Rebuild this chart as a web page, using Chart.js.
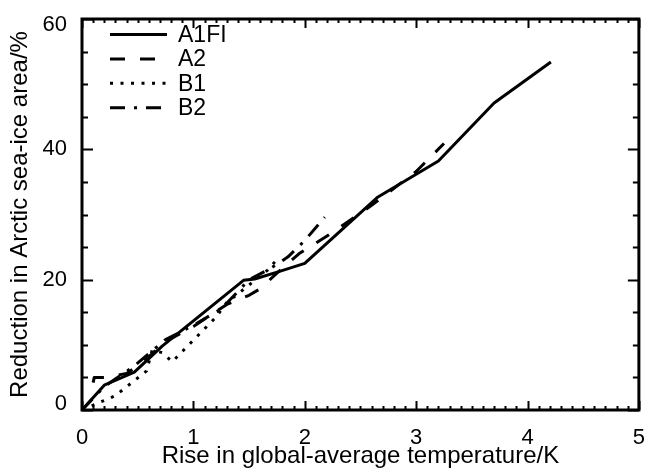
<!DOCTYPE html>
<html>
<head>
<meta charset="utf-8">
<script src="https://cdn.jsdelivr.net/npm/chart.js@4.4.1/dist/chart.umd.min.js"></script>
<style>
	html, body { margin: 0; padding: 0; background: #fff; }
	#wrap { width: 652px; height: 472px; }
</style>
</head>
<body>
<div id="wrap"><canvas id="seaIce" width="652" height="472"></canvas></div>
<script>
/* Arctic sea-ice reduction vs warming, four SRES scenarios */

var seriesNames = [ 'A1FI', 'A2', 'B1', 'B2' ];

var a1fiX = [ 0, 0.2, 0.47, 0.72, 1.45, 1.55, 1.76, 2.0, 2.65, 3.2, 3.7, 4.21 ];
var a1fiY = [ 0, 3.8, 5.8, 9.8, 19.9, 20.1, 21.2, 22.5, 32.6, 38.2, 47.1, 53.4 ];

var a2X = [ 0.1, 0.11, 0.2, 0.4, 0.55, 0.75, 1.0, 1.3, 1.5, 1.6, 1.75, 1.95, 2.2, 2.6, 3.0, 3.25 ];
var a2Y = [ 4.2, 5.0, 5.0, 5.6, 7.4, 10.5, 12.8, 16.2, 17.6, 18.6, 21.0, 24.0, 26.7, 31.4, 36.6, 40.9 ];

var b1X = [ 0, 0.3, 0.58, 0.63, 0.72, 0.81, 1.2, 1.3, 1.48, 1.6, 1.67, 1.77 ];
var b1Y = [ 0, 2.2, 6.0, 9.2, 8.8, 7.4, 14.2, 16.5, 18.9, 20.6, 21.5, 23.5 ];

var b2X = [ 0, 0.2, 0.45, 0.75, 1.0, 1.25, 1.5, 1.7, 1.85, 2.0, 2.18 ];
var b2Y = [ 0, 3.6, 6.5, 10.8, 13.0, 15.5, 20.0, 21.8, 23.5, 26.0, 29.6 ];

var xTicks = [ 0, 1, 2, 3, 4, 5 ];
var yTicks = [ 0, 20, 40, 60 ];

var FONT = '"Liberation Sans", Arial, Helvetica, sans-serif';

function toPoints( xs, ys ) {
	var pts = [];
	for ( var i = 0; i < xs.length; i++ ) pts.push({ x: xs[i], y: ys[i] });
	return pts;
}

function makeDataset( label, xs, ys, dash ) {
	return {
		label: label,
		data: toPoints( xs, ys ),
		borderColor: '#000',
		borderWidth: 3,
		borderDash: dash,
		borderCapStyle: 'butt',
		borderJoinStyle: 'round',
		pointRadius: 0,
		fill: false,
		tension: 0
	};
}

/* frame with inward major/minor ticks on all four sides */
var framePlugin = {
	id: 'frame',
	afterDatasetsDraw: function( chart ) {
		var ctx = chart.ctx;
		var a   = chart.chartArea;
		var xs  = chart.scales.x;
		var ys  = chart.scales.y;
		var i, v, p, len;

		ctx.save();
		ctx.strokeStyle = '#000';
		ctx.lineWidth = 2;
		ctx.setLineDash( [] );
		ctx.beginPath();
		for ( i = 0; i <= 50; i++ ) {
			v = i / 10;
			p = Math.round( xs.getPixelForValue( v ) ) + 0.5;
			len = ( i % 10 === 0 ) ? 9 : 4;
			ctx.moveTo( p, a.bottom );
			ctx.lineTo( p, a.bottom - len );
			ctx.moveTo( p, a.top );
			ctx.lineTo( p, a.top + len );
		}
		for ( i = 0; i <= 12; i++ ) {
			v = i * 5;
			p = Math.round( ys.getPixelForValue( v ) ) + 0.5;
			len = ( v % 20 === 0 ) ? 11 : 6;
			ctx.moveTo( a.left, p );
			ctx.lineTo( a.left + len, p );
			ctx.moveTo( a.right, p );
			ctx.lineTo( a.right - len, p );
		}
		ctx.stroke();

		ctx.lineWidth = 3;
		ctx.strokeRect( a.left, a.top, a.right - a.left, a.bottom - a.top );
		ctx.restore();
	}
};

/* in-plot legend with line samples */
var legendPlugin = {
	id: 'lineLegend',
	afterDraw: function( chart ) {
		var ctx = chart.ctx;
		var sets = chart.data.datasets;
		ctx.save();
		ctx.font = '23px ' + FONT;
		ctx.fillStyle = '#000';
		ctx.textBaseline = 'middle';
		ctx.textAlign = 'left';
		for ( var i = 0; i < sets.length; i++ ) {
			var y = 34.5 + i * 24.4;
			ctx.strokeStyle = '#000';
			ctx.lineWidth = 3;
			ctx.lineCap = 'butt';
			ctx.setLineDash( sets[i].borderDash || [] );
			ctx.beginPath();
			ctx.moveTo( 110, y );
			ctx.lineTo( 167, y );
			ctx.stroke();
			ctx.fillText( sets[i].label, 178, y + 1 );
		}
		ctx.restore();
	}
};

new Chart( document.getElementById( 'seaIce' ).getContext( '2d' ), {
	type: 'line',
	data: {
		datasets: [
			makeDataset( seriesNames[0], a1fiX, a1fiY, [] ),
			makeDataset( seriesNames[1], a2X, a2Y, [ 15, 15 ] ),
			makeDataset( seriesNames[2], b1X, b1Y, [ 3, 7.5 ] ),
			makeDataset( seriesNames[3], b2X, b2Y, [ 15, 9, 3, 9 ] )
		]
	},
	options: {
		responsive: false,
		animation: false,
		devicePixelRatio: 1,
		layout: { padding: { top: 14, right: 8, left: 0, bottom: 0 } },
		plugins: {
			legend: { display: false },
			tooltip: { enabled: false }
		},
		scales: {
			x: {
				type: 'linear',
				min: 0,
				max: 5,
				afterBuildTicks: function( scale ) {
					scale.ticks = xTicks.map( function( v ) { return { value: v }; } );
				},
				afterFit: function( scale ) { scale.height = 62; },
				grid: { display: false },
				border: { display: false },
				ticks: {
					color: '#000',
					padding: 7,
					maxRotation: 0,
					autoSkip: false,
					font: { family: FONT, size: 22 }
				},
				title: {
					display: true,
					text: 'Rise in global-average temperature/K',
					color: '#000',
					font: { family: FONT, size: 24 },
					padding: { top: 0, bottom: 1 }
				}
			},
			y: {
				min: 0,
				max: 60,
				afterBuildTicks: function( scale ) {
					scale.ticks = yTicks.map( function( v ) { return { value: v }; } );
				},
				afterFit: function( scale ) { scale.width = 82; },
				grid: { display: false },
				border: { display: false },
				ticks: {
					color: '#000',
					padding: 7,
					autoSkip: false,
					font: { family: FONT, size: 22, lineHeight: '12px' },
					callback: function( v ) {
						// extreme labels sit inside the frame, like the original
						if ( v === 60 ) return [ '', '60' ];
						if ( v === 0 ) return [ '0', '' ];
						return String( v );
					}
				},
				title: {
					display: true,
					text: 'Reduction in Arctic sea-ice area/%',
					color: '#000',
					font: { family: FONT, size: 24 },
					padding: { top: 6, bottom: 0 }
				}
			}
		}
	},
	plugins: [ framePlugin, legendPlugin ]
});
</script>
</body>
</html>
